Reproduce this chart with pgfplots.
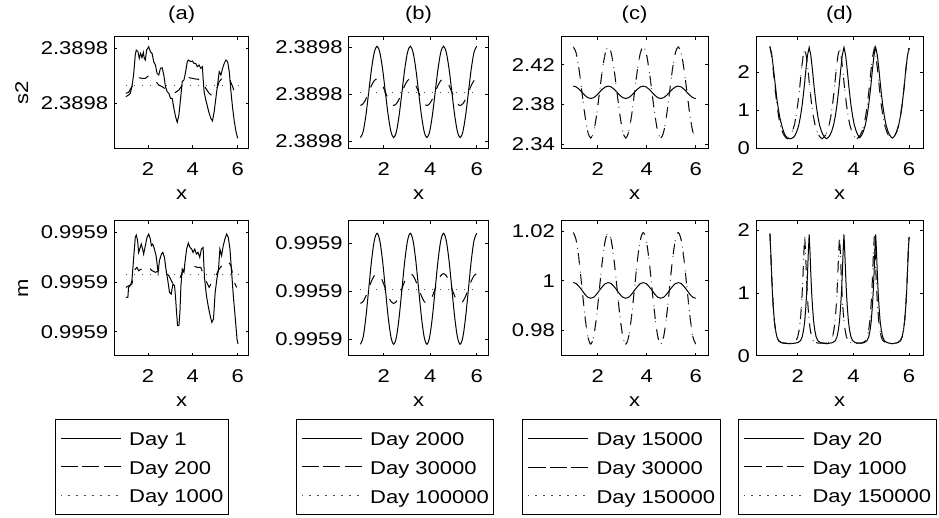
\documentclass[border=0pt]{standalone}
\usepackage{fontspec}
\setmainfont{Liberation Sans}[FakeStretch=1.19]
\usepackage{pgfplots}
\usepackage{pgfplotstable}
\pgfplotsset{compat=1.18}
\newcommand\fnt{\fontsize{18.5}{20}\selectfont}

\pgfplotstableread{
x b1s b1d b2s b2d c1s c1d c2s c2d
1.000 1.085 1.764 0.896 1.750 2.3984 2.4377 0.9993 1.0195
1.119 1.214 1.802 1.051 1.792 2.3976 2.4316 0.9989 1.0165
1.238 1.568 1.905 1.476 1.905 2.3953 2.4149 0.9977 1.0083
1.357 2.050 2.045 2.055 2.060 2.3922 2.3920 0.9962 0.9970
1.476 2.533 2.186 2.635 2.215 2.3891 2.3692 0.9946 0.9858
1.595 2.886 2.288 3.059 2.328 2.3868 2.3524 0.9934 0.9775
1.714 3.015 2.326 3.214 2.370 2.3860 2.3463 0.9930 0.9745
1.833 2.886 2.288 3.059 2.328 2.3868 2.3524 0.9934 0.9775
1.952 2.533 2.186 2.635 2.215 2.3891 2.3692 0.9946 0.9858
2.071 2.050 2.045 2.055 2.060 2.3922 2.3920 0.9962 0.9970
2.190 1.568 1.905 1.476 1.905 2.3953 2.4149 0.9977 1.0083
2.310 1.214 1.802 1.051 1.792 2.3976 2.4316 0.9989 1.0165
2.429 1.085 1.764 0.896 1.750 2.3984 2.4377 0.9993 1.0195
2.548 1.214 1.802 1.051 1.792 2.3976 2.4316 0.9989 1.0165
2.667 1.568 1.905 1.476 1.905 2.3953 2.4149 0.9977 1.0083
2.786 2.050 2.045 2.055 2.060 2.3922 2.3920 0.9962 0.9970
2.905 2.533 2.186 2.635 2.215 2.3891 2.3692 0.9946 0.9858
3.024 2.886 2.288 3.059 2.328 2.3868 2.3524 0.9934 0.9775
3.143 3.015 2.326 3.214 2.370 2.3860 2.3463 0.9930 0.9745
3.262 2.886 2.288 3.059 2.328 2.3868 2.3524 0.9934 0.9775
3.381 2.533 2.186 2.635 2.215 2.3891 2.3692 0.9946 0.9858
3.500 2.050 2.045 2.055 2.060 2.3922 2.3920 0.9962 0.9970
3.619 1.568 1.905 1.476 1.905 2.3953 2.4149 0.9977 1.0083
3.738 1.214 1.802 1.051 1.792 2.3976 2.4316 0.9989 1.0165
3.857 1.085 1.764 0.896 1.750 2.3984 2.4377 0.9993 1.0195
3.976 1.214 1.802 1.051 1.792 2.3976 2.4316 0.9989 1.0165
4.095 1.568 1.905 1.476 1.905 2.3953 2.4149 0.9977 1.0083
4.214 2.050 2.045 2.055 2.060 2.3922 2.3920 0.9962 0.9970
4.333 2.533 2.186 2.635 2.215 2.3891 2.3692 0.9946 0.9858
4.452 2.886 2.288 3.059 2.328 2.3868 2.3524 0.9934 0.9775
4.571 3.015 2.326 3.214 2.370 2.3860 2.3463 0.9930 0.9745
4.690 2.886 2.288 3.059 2.328 2.3868 2.3524 0.9934 0.9775
4.810 2.533 2.186 2.635 2.215 2.3891 2.3692 0.9946 0.9858
4.929 2.050 2.045 2.055 2.060 2.3922 2.3920 0.9962 0.9970
5.048 1.568 1.905 1.476 1.905 2.3953 2.4149 0.9977 1.0083
5.167 1.214 1.802 1.051 1.792 2.3976 2.4316 0.9989 1.0165
5.286 1.085 1.764 0.896 1.750 2.3984 2.4377 0.9993 1.0195
5.405 1.214 1.802 1.051 1.792 2.3976 2.4316 0.9989 1.0165
5.524 1.568 1.905 1.476 1.905 2.3953 2.4149 0.9977 1.0083
5.643 2.050 2.045 2.055 2.060 2.3922 2.3920 0.9962 0.9970
5.762 2.533 2.186 2.635 2.215 2.3891 2.3692 0.9946 0.9858
5.881 2.886 2.288 3.059 2.328 2.3868 2.3524 0.9934 0.9775
6.000 3.015 2.326 3.214 2.370 2.3860 2.3463 0.9930 0.9745
}\tbc

\pgfplotstableread{
x y
1.00 2.68
1.06 2.45
1.12 2.05
1.18 1.60
1.25 1.15
1.31 0.85
1.37 0.62
1.44 0.45
1.50 0.35
1.56 0.29
1.625 0.25
1.69 0.29
1.75 0.35
1.81 0.45
1.88 0.62
1.94 0.85
2.00 1.15
2.07 1.60
2.13 2.05
2.19 2.42
2.25 2.63
2.31 2.42
2.37 2.05
2.43 1.60
2.50 1.15
2.56 0.85
2.62 0.62
2.69 0.45
2.75 0.35
2.81 0.29
2.875 0.25
2.94 0.29
3.00 0.35
3.06 0.45
3.13 0.62
3.19 0.85
3.25 1.15
3.32 1.60
3.38 2.05
3.44 2.42
3.50 2.63
3.56 2.42
3.62 2.05
3.68 1.60
3.75 1.15
3.81 0.85
3.87 0.62
3.94 0.45
4.00 0.35
4.06 0.29
4.125 0.25
4.19 0.29
4.25 0.35
4.31 0.45
4.38 0.62
4.44 0.85
4.50 1.15
4.57 1.60
4.63 2.05
4.69 2.42
4.75 2.63
4.81 2.42
4.87 2.05
4.93 1.60
5.00 1.15
5.06 0.85
5.12 0.62
5.19 0.45
5.25 0.35
5.31 0.29
5.375 0.25
5.44 0.29
5.50 0.35
5.56 0.45
5.63 0.62
5.69 0.85
5.75 1.15
5.82 1.60
5.88 2.05
5.94 2.42
6.00 2.64
}\tdonedash

\pgfplotstableread{
x y
1.00 2.68
1.06 2.50
1.12 2.15
1.18 1.75
1.25 1.30
1.31 1.00
1.37 0.76
1.44 0.56
1.50 0.42
1.56 0.33
1.63 0.27
1.705 0.25
1.78 0.26
1.85 0.29
1.91 0.35
1.97 0.45
2.04 0.62
2.10 0.85
2.16 1.15
2.23 1.60
2.29 2.05
2.35 2.45
2.41 2.66
2.47 2.45
2.53 2.05
2.59 1.60
2.66 1.15
2.72 0.85
2.78 0.62
2.85 0.45
2.91 0.35
2.97 0.29
3.035 0.25
3.10 0.29
3.16 0.35
3.22 0.45
3.29 0.62
3.35 0.85
3.41 1.15
3.48 1.60
3.54 2.05
3.60 2.45
3.66 2.66
3.72 2.45
3.78 2.05
3.84 1.60
3.91 1.15
3.97 0.85
4.03 0.62
4.10 0.45
4.16 0.35
4.23 0.28
4.30 0.35
4.36 0.45
4.43 0.62
4.49 0.85
4.55 1.15
4.62 1.60
4.68 2.05
4.74 2.45
4.80 2.66
4.86 2.45
4.92 2.05
4.98 1.60
5.05 1.15
5.11 0.85
5.17 0.62
5.24 0.45
5.30 0.35
5.36 0.29
5.40 0.27
5.44 0.29
5.50 0.35
5.56 0.45
5.63 0.62
5.69 0.85
5.75 1.15
5.82 1.60
5.88 2.05
5.94 2.43
6.00 2.64
}\tdonesol

\pgfplotstableread{
x y
1.00 1.945
1.03 1.65
1.06 1.30
1.09 1.00
1.12 0.78
1.16 0.55
1.20 0.41
1.25 0.30
1.31 0.24
1.40 0.21
1.50 0.20
1.625 0.20
1.75 0.20
1.85 0.21
1.94 0.24
2.00 0.30
2.05 0.41
2.09 0.55
2.13 0.78
2.16 1.00
2.19 1.30
2.22 1.65
2.25 1.90
2.28 1.65
2.31 1.30
2.34 1.00
2.37 0.78
2.41 0.55
2.45 0.41
2.50 0.30
2.56 0.24
2.65 0.21
2.75 0.20
2.875 0.20
3.00 0.20
3.10 0.21
3.19 0.24
3.25 0.30
3.30 0.41
3.34 0.55
3.38 0.78
3.41 1.00
3.44 1.30
3.47 1.65
3.50 1.90
3.53 1.65
3.56 1.30
3.59 1.00
3.62 0.78
3.66 0.55
3.70 0.41
3.75 0.30
3.81 0.24
3.90 0.21
4.00 0.20
4.125 0.20
4.25 0.20
4.35 0.21
4.44 0.24
4.50 0.30
4.55 0.41
4.59 0.55
4.63 0.78
4.66 1.00
4.69 1.30
4.72 1.65
4.75 1.90
4.78 1.65
4.81 1.30
4.84 1.00
4.87 0.78
4.91 0.55
4.95 0.41
5.00 0.30
5.06 0.24
5.15 0.21
5.25 0.20
5.375 0.20
5.50 0.20
5.60 0.21
5.69 0.24
5.75 0.30
5.80 0.41
5.84 0.55
5.88 0.78
5.91 1.00
5.94 1.30
5.97 1.65
6.00 1.89
}\tdtwodash

\pgfplotstableread{
x y
1.00 1.945
1.03 1.65
1.06 1.30
1.09 1.00
1.12 0.78
1.16 0.55
1.20 0.41
1.25 0.30
1.31 0.24
1.40 0.21
1.50 0.20
1.705 0.19
1.91 0.20
2.01 0.21
2.10 0.24
2.16 0.30
2.21 0.41
2.25 0.55
2.29 0.78
2.32 1.00
2.35 1.30
2.38 1.65
2.41 1.93
2.44 1.65
2.47 1.30
2.50 1.00
2.53 0.78
2.57 0.55
2.61 0.41
2.66 0.30
2.72 0.24
2.81 0.21
2.91 0.20
3.035 0.19
3.16 0.20
3.26 0.21
3.35 0.24
3.41 0.30
3.46 0.41
3.50 0.55
3.54 0.78
3.57 1.00
3.60 1.30
3.63 1.65
3.66 1.93
3.69 1.65
3.72 1.30
3.75 1.00
3.78 0.78
3.82 0.55
3.86 0.41
3.91 0.30
3.97 0.24
4.06 0.21
4.16 0.20
4.23 0.20
4.30 0.20
4.40 0.21
4.49 0.24
4.55 0.30
4.60 0.41
4.64 0.55
4.68 0.78
4.71 1.00
4.74 1.30
4.77 1.65
4.80 1.93
4.83 1.65
4.86 1.30
4.89 1.00
4.92 0.78
4.96 0.55
5.00 0.41
5.05 0.30
5.11 0.24
5.20 0.21
5.30 0.20
5.40 0.19
5.50 0.20
5.60 0.21
5.69 0.24
5.75 0.30
5.80 0.41
5.84 0.55
5.88 0.78
5.91 1.00
5.94 1.30
5.97 1.65
6.00 1.89
}\tdtwosol

\pgfplotsset{
  panel/.style={
    scale only axis, anchor=south west,
    xmin=0.5, xmax=6.5, xtick={2,4,6}, xticklabels={2,4,6},
    tick align=inside, major tick length=3pt,
    axis line style={line width=1pt},
    every tick/.style={black, line width=0.8pt},
    tick label style={font=\fnt},
    label style={font=\fnt},
    xticklabel style={anchor=base, yshift=-27.2pt, inner sep=0pt},
    yticklabel style={anchor=east, xshift=-6pt, inner sep=0pt},
    xlabel={x},
  },
  ttl/.style={extra description/.code={\node[font=\fnt, anchor=base, inner sep=0pt] at (0.5,1.1496) {#1};}},
  r1/.style={height=111.6pt, xlabel style={at={(axis description cs:0.5,-0.4633)}, anchor=base}},
  r2/.style={height=135pt, xlabel style={at={(axis description cs:0.5,-0.3778)}, anchor=base}},
  s/.style={black, line width=1pt},
  ds/.style={black, line width=1pt, dash pattern=on 10.5pt off 10.75pt},
  dt/.style={black!70, line width=1pt, dash pattern=on 1pt off 7pt},
  leg/.style={legend cell align=left,
    legend style={at={(axis description cs:#1,-0.4689)}, anchor=north west, draw=black, line width=1pt,
      font=\fnt, inner xsep=5pt, inner ysep=8pt, row sep=7.25pt, column sep=8pt,
      nodes={inner sep=0pt, text height=18pt, text depth=3.5pt}},
    legend image code/.code={\path (0pt,0pt) -- (59.7pt,0pt); \draw[##1] (6.7pt,0pt) -- (59.7pt,0pt);}},
}

\begin{document}
\begin{tikzpicture}
\useasboundingbox (0,0) rectangle (939pt,518pt);

% ---------- (a) row 1 ----------
\begin{axis}[panel, r1, at={(114.4pt,369.7pt)}, width=134.5pt,
  ymin=0.176, ymax=2.206, ytick={1,2}, yticklabels={2.3898,2.3898},
  ttl={(a)}, ylabel={s2}, ylabel style={at={(axis description cs:-0.6424,0.5)}, anchor=base}]
\addplot[s] coordinates {(1.011,1.115) (1.131,1.145) (1.206,1.176) (1.281,1.297) (1.356,1.509) (1.431,1.873) (1.476,1.964) (1.551,1.933) (1.610,1.812) (1.670,1.903) (1.730,1.824) (1.790,1.921) (1.835,1.812) (1.880,1.782) (1.940,1.964) (2.030,2.024) (2.105,1.933) (2.180,1.903) (2.255,1.752) (2.330,1.691) (2.404,1.539) (2.479,1.509) (2.554,1.630) (2.629,1.642) (2.704,1.509) (2.779,1.297) (2.854,1.206) (2.929,1.176) (3.004,1.085) (3.079,1.085) (3.154,0.903) (3.228,0.752) (3.303,0.648) (3.378,0.782) (3.453,1.085) (3.528,1.388) (3.603,1.418) (3.678,1.570) (3.753,1.752) (3.798,1.782) (3.903,1.752) (3.978,1.764) (4.052,1.721) (4.127,1.721) (4.202,1.661) (4.277,1.691) (4.352,1.630) (4.427,1.661) (4.457,1.448) (4.502,1.206) (4.577,1.055) (4.652,0.933) (4.727,0.812) (4.801,0.721) (4.876,0.673) (4.951,0.842) (5.026,1.085) (5.101,1.327) (5.176,1.570) (5.251,1.509) (5.326,1.630) (5.401,1.721) (5.476,1.782) (5.551,1.752) (5.625,1.570) (5.700,1.206) (5.775,0.903) (5.850,0.661) (5.925,0.479) (6.000,0.358)};
\addplot[ds] coordinates {(1.011,1.176) (1.131,1.194) (1.281,1.297) (1.431,1.418) (1.581,1.461) (1.730,1.448) (1.880,1.448) (2.030,1.497) (2.180,1.461) (2.330,1.400) (2.479,1.327) (2.629,1.297) (2.779,1.255) (2.929,1.218) (3.079,1.206) (3.228,1.194) (3.378,1.236) (3.528,1.327) (3.678,1.436) (3.828,1.461) (3.978,1.448) (4.127,1.436) (4.277,1.430) (4.427,1.418) (4.577,1.267) (4.727,1.176) (4.876,1.127) (5.026,1.206) (5.176,1.388) (5.326,1.461) (5.476,1.479) (5.625,1.448) (5.775,1.297) (5.925,1.115) (6.000,1.097)};
\addplot[dt] coordinates {(1,1.315) (6,1.315)};
\end{axis}

% ---------- (a) row 2 ----------
\begin{axis}[panel, r2, at={(114.4pt,162.3pt)}, width=134.5pt,
  ymin=0.517, ymax=3.235, ytick={1,2,3}, yticklabels={0.9959,0.9959,0.9959},
  ylabel={m}, ylabel style={at={(axis description cs:-0.6424,0.5)}, anchor=base}, leg=-0.4416]
\addplot[s] coordinates {(1.011,1.691) (1.101,1.691) (1.131,1.893) (1.206,1.926) (1.281,2.027) (1.356,2.463) (1.431,2.899) (1.476,2.946) (1.536,2.832) (1.581,2.597) (1.655,2.698) (1.700,2.765) (1.760,2.664) (1.805,2.564) (1.880,2.732) (1.955,2.899) (2.030,2.966) (2.105,2.866) (2.150,2.732) (2.210,2.765) (2.285,2.664) (2.360,2.530) (2.449,2.195) (2.509,2.430) (2.599,2.564) (2.659,2.597) (2.734,2.497) (2.809,2.228) (2.884,2.027) (2.959,1.792) (3.034,1.758) (3.109,1.960) (3.184,1.926) (3.228,1.691) (3.273,1.389) (3.318,1.121) (3.378,1.121) (3.423,1.389) (3.468,1.926) (3.528,2.262) (3.603,2.195) (3.648,2.396) (3.723,2.664) (3.798,2.785) (3.873,2.698) (3.948,2.664) (4.007,2.597) (4.082,2.664) (4.157,2.564) (4.232,2.597) (4.307,2.497) (4.382,2.664) (4.457,2.698) (4.517,2.094) (4.607,1.725) (4.682,1.523) (4.772,1.322) (4.846,1.188) (4.921,1.255) (4.996,1.792) (5.071,2.060) (5.146,2.262) (5.206,2.664) (5.281,2.530) (5.356,2.732) (5.431,2.866) (5.506,2.966) (5.581,2.899) (5.655,2.664) (5.730,2.195) (5.805,1.725) (5.895,1.255) (5.970,0.852) (6.015,0.752)};
\addplot[ds] coordinates {(1.011,1.893) (1.281,1.960) (1.431,2.262) (1.506,2.295) (1.581,2.228) (1.700,2.262) (1.880,2.329) (2.030,2.295) (2.180,2.228) (2.330,2.195) (2.479,2.228) (2.629,2.161) (2.779,2.195) (2.929,2.128) (3.079,1.993) (3.228,1.960) (3.378,2.027) (3.528,2.195) (3.678,2.295) (3.828,2.329) (3.978,2.329) (4.202,2.295) (4.352,2.295) (4.577,2.027) (4.727,1.893) (4.876,2.027) (5.026,2.128) (5.176,2.262) (5.401,2.396) (5.551,2.430) (5.700,2.329) (5.850,1.993) (5.955,1.893)};
\addplot[dt] coordinates {(1,2.154) (6,2.154)};
\legend{Day 1,Day 200,Day 1000}
\end{axis}

% ---------- (b) row 1 ----------
\begin{axis}[panel, r1, at={(348.8pt,369.7pt)}, width=139.6pt,
  ymin=0.859, ymax=3.217, ytick={1,2,3}, yticklabels={2.3898,2.3898,2.3898}, ttl={(b)}]
\addplot[s, smooth] table[x=x, y=b1s] {\tbc};
\addplot[ds, smooth] table[x=x, y=b1d] {\tbc};
\addplot[dt] coordinates {(1,2.044) (6,2.044)};
\end{axis}

% ---------- (b) row 2 ----------
\begin{axis}[panel, r2, at={(348.8pt,162.3pt)}, width=139.6pt,
  ymin=0.658, ymax=3.476, ytick={1,2,3}, yticklabels={0.9959,0.9959,0.9959}, leg=-0.3782]
\addplot[s, smooth] table[x=x, y=b2s] {\tbc};
\addplot[ds, smooth] table[x=x, y=b2d] {\tbc};
\addplot[dt] coordinates {(1,2.05) (6,2.05)};
\legend{Day 2000,Day 30000,Day 100000}
\end{axis}

% ---------- (c) row 1 ----------
\begin{axis}[panel, r1, at={(561pt,369.7pt)}, width=147pt,
  ymin=2.336, ymax=2.448, ytick={2.34,2.38,2.42}, yticklabels={2.34,2.38,2.42}, ttl={(c)}]
\addplot[s, smooth] table[x=x, y=c1s] {\tbc};
\addplot[ds, smooth] table[x=x, y=c1d] {\tbc};
\addplot[dt, smooth] table[x=x, y=c1d] {\tbc};
\end{axis}

% ---------- (c) row 2 ----------
\begin{axis}[panel, r2, at={(561pt,162.3pt)}, width=147pt,
  ymin=0.9698, ymax=1.0243, ytick={0.98,1,1.02}, yticklabels={0.98,1,1.02}, leg=-0.2633]
\addplot[s, smooth] table[x=x, y=c2s] {\tbc};
\addplot[ds, smooth] table[x=x, y=c2d] {\tbc};
\addplot[dt, smooth] table[x=x, y=c2d] {\tbc};
\legend{Day 15000,Day 30000,Day 150000}
\end{axis}

% ---------- (d) row 1 ----------
\begin{axis}[panel, r1, at={(756pt,369.7pt)}, width=167pt,
  ymin=0, ymax=2.94, ytick={0,1,2}, yticklabels={0,1,2}, ttl={(d)}]
\addplot[s] table[x=x, y=y] {\tdonesol};
\addplot[ds] table[x=x, y=y] {\tdonedash};
\addplot[dt] table[x=x, y=y] {\tdonedash};
\end{axis}

% ---------- (d) row 2 ----------
\begin{axis}[panel, r2, at={(756pt,162.3pt)}, width=167pt,
  ymin=0, ymax=2.15, ytick={0,1,2}, yticklabels={0,1,2}, leg=-0.1060]
\addplot[s] table[x=x, y=y] {\tdtwosol};
\addplot[ds] table[x=x, y=y] {\tdtwodash};
\addplot[dt] table[x=x, y=y] {\tdtwodash};
\legend{Day 20,Day 1000,Day 150000}
\end{axis}
\end{tikzpicture}
\end{document}
